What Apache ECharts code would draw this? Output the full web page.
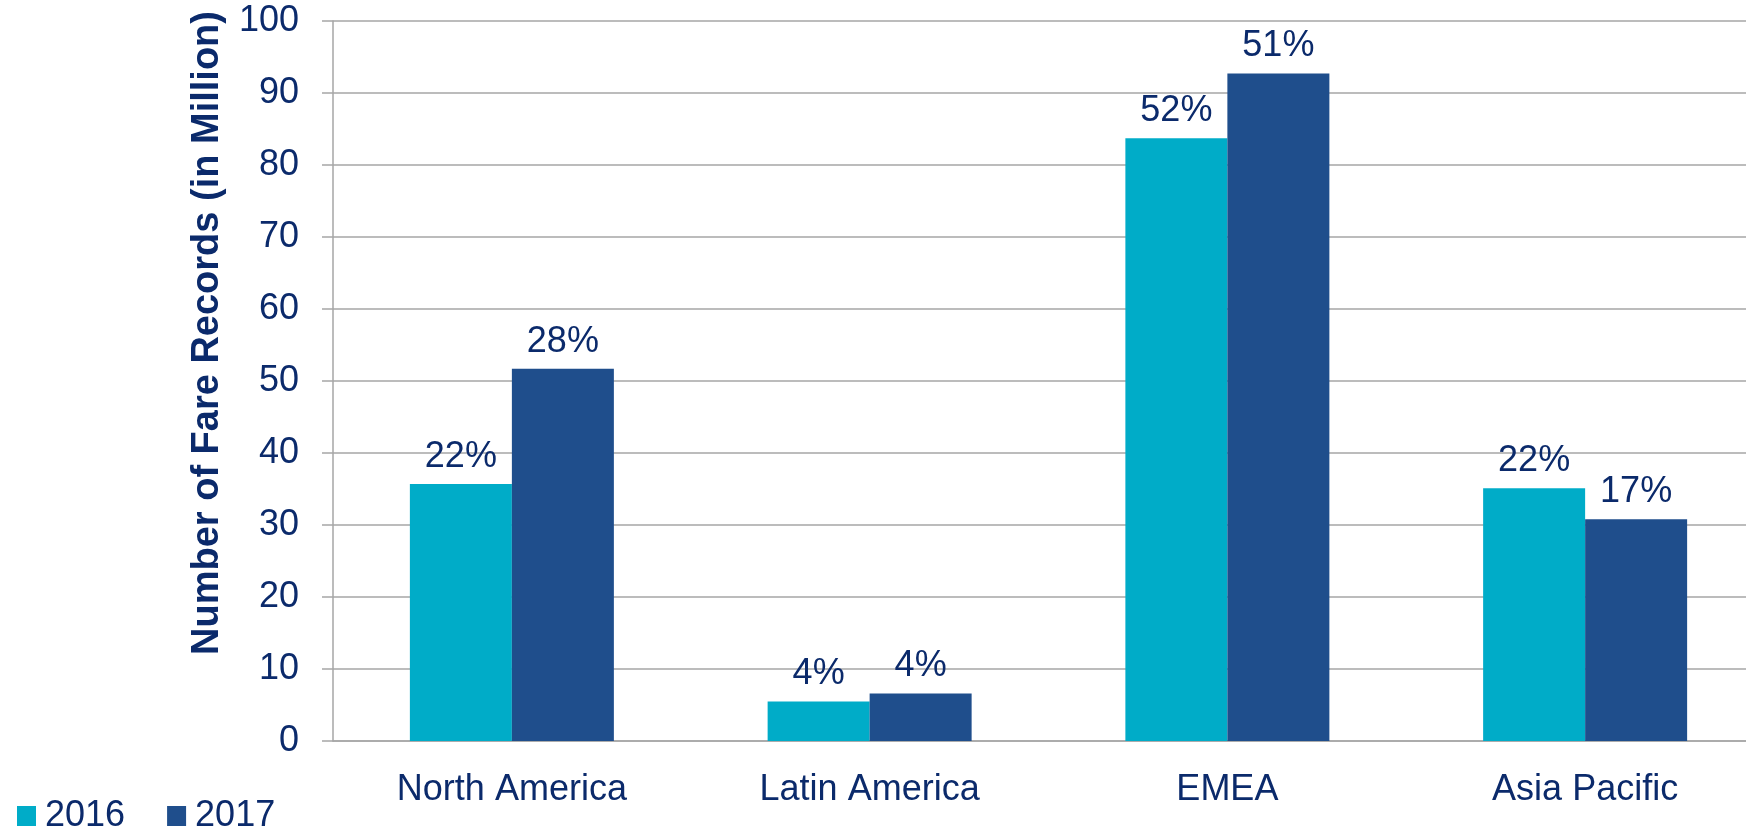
<!DOCTYPE html>
<html lang="en">
<head>
    <meta charset="UTF-8">
    <title>Fare Records by Region</title>
    <script src="https://cdn.jsdelivr.net/npm/echarts@6/dist/echarts.min.js"></script>
    <style>
        body, html {
            margin: 0;
            padding: 0;
            width: 100%;
            height: 100%;
            overflow: hidden;
            background-color: #fff;
        }
        #container {
            width: 1746px;
            height: 833px;
        }
    </style>
</head>
<body>
    <div id="container"></div>
    <script>
        // data
        var regions = ['North America', 'Latin America', 'EMEA', 'Asia Pacific'];
        var years = ['2016', '2017'];
        var records2016 = [35.7, 5.5, 83.7, 35.1];
        var records2017 = [51.7, 6.6, 92.7, 30.8];
        var share2016 = ['22%', '4%', '52%', '22%'];
        var share2017 = ['28%', '4%', '51%', '17%'];

        var textColor = '#0b2a6b';
        var gridColor = '#a6a6a6';
        var font = "'Liberation Sans', Arial, sans-serif";

        function barSeries(name, values, shares, color) {
            return {
                name: name,
                type: 'bar',
                data: values,
                barWidth: 102,
                barGap: '0%',
                itemStyle: { color: color },
                label: {
                    show: true,
                    position: 'top',
                    distance: 9,
                    color: textColor,
                    fontSize: 36,
                    fontFamily: font,
                    formatter: function (p) { return shares[p.dataIndex]; }
                }
            };
        }

        var option = {
            backgroundColor: '#fff',
            animation: false,
            textStyle: { fontFamily: font },
            // the plot runs a little past the right edge of the picture
            grid: {
                left: 333,
                width: 1431,
                top: 21,
                bottom: 92,
                outerBoundsMode: 'none',
                containLabel: false
            },
            legend: {
                data: years,
                left: 17,
                top: 798,
                padding: 0,
                icon: 'rect',
                itemWidth: 19,
                itemHeight: 20,
                itemGap: 42,
                textStyle: { color: textColor, fontSize: 36, fontFamily: font, padding: [0, 0, 0, 4] }
            },
            xAxis: {
                type: 'category',
                data: regions,
                axisLine: { lineStyle: { color: gridColor, width: 1.5 } },
                axisTick: { length: 11, lineStyle: { color: gridColor, width: 1.5 } },
                axisLabel: { color: textColor, fontSize: 36, margin: 31, fontFamily: font }
            },
            yAxis: {
                type: 'value',
                min: 0,
                max: 100,
                interval: 10,
                name: 'Number of Fare Records (in Million)',
                nameLocation: 'middle',
                nameGap: 106,
                nameTextStyle: {
                    color: textColor,
                    fontSize: 38,
                    fontWeight: 'bold',
                    fontFamily: font,
                    padding: [0, 0, 0, 96]
                },
                axisLine: { show: true, lineStyle: { color: gridColor, width: 1.5 } },
                axisTick: { show: true, length: 11, lineStyle: { color: gridColor, width: 1.5 } },
                axisLabel: { color: textColor, fontSize: 36, margin: 34, fontFamily: font },
                splitLine: { lineStyle: { color: gridColor, width: 1.5 } }
            },
            series: [
                barSeries('2016', records2016, share2016, '#00acc8'),
                barSeries('2017', records2017, share2017, '#1f4e8c')
            ]
        };

        var chart = echarts.init(document.getElementById('container'));
        chart.setOption(option);
    </script>
</body>
</html>
